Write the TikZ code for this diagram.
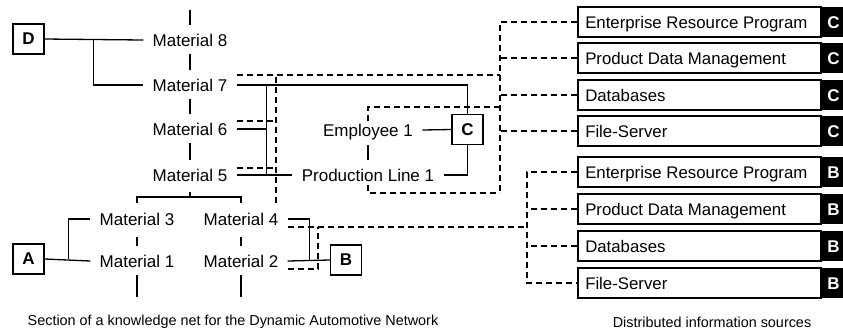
\documentclass[tikz,border=0pt]{standalone}
\usepackage{fontspec}
\setmainfont{Liberation Sans}
\begin{document}
\begin{tikzpicture}[x=0.5pt,y=-0.5pt,
  lab/.style={font=\fontsize{8.5}{10}\selectfont, inner xsep=4.5pt, inner ysep=0pt, text height=6.2pt, text depth=0pt},
  keybox/.style={draw, line width=0.75pt, minimum width=15.5pt, minimum height=15pt, inner sep=0pt, font=\fontsize{8.5}{10}\selectfont\bfseries},
  src/.style={draw, line width=0.75pt, anchor=west, minimum height=15pt, text width=114pt, inner xsep=3.75pt, inner ysep=0pt, text height=6.2pt, text depth=0pt, align=flush left, font=\fontsize{8.4}{10}\selectfont},
  tag/.style={fill=black, text=white, anchor=west, minimum width=11.5pt, minimum height=15pt, inner sep=0pt, text height=6.2pt, text depth=0pt, font=\fontsize{8.5}{10}\selectfont\bfseries},
  ln/.style={line width=0.65pt},
  dsh/.style={line width=0.65pt, dash pattern=on 3pt off 2pt},
  tick/.style={ln, shorten <=7pt, shorten >=7.5pt},
  captxt/.style={font=\fontsize{7.2}{9}\selectfont}
]
\useasboundingbox (0,0) rectangle (843,329);

% key boxes
\node[keybox] (D) at (28.5,39) {D};
\node[keybox] (A) at (28.5,259) {A};
\node[keybox] (B) at (346,260) {B};
\node[keybox] (C) at (467.5,129.5) {C};

% material column
\node[lab] (m8) at (190,40) {Material 8};
\node[lab] (m7) at (190,85) {Material 7};
\node[lab] (m6) at (190,129) {Material 6};
\node[lab] (m5) at (190,175) {Material 5};
\node[lab] (m3) at (137,219) {Material 3};
\node[lab] (m4) at (241,219) {Material 4};
\node[lab] (m1) at (137,261) {Material 1};
\node[lab] (m2) at (241,261) {Material 2};
\node[lab] (emp) at (368,130) {Employee 1};
\node[lab] (prod) at (368,175) {Production Line 1};

% sources
\node[src] (ercC) at (577,22) {Enterprise Resource Program};
\node[src] (pdmC) at (577,58) {Product Data Management};
\node[src] (dbC) at (577,95) {Databases};
\node[src] (fsC) at (577,131) {File-Server};
\node[src] (ercB) at (577,172) {Enterprise Resource Program};
\node[src] (pdmB) at (577,209) {Product Data Management};
\node[src] (dbB) at (577,246) {Databases};
\node[src] (fsB) at (577,283) {File-Server};
\foreach \n/\l in {ercC/C,pdmC/C,dbC/C,fsC/C,ercB/B,pdmB/B,dbB/B,fsB/B}
  \node[tag] (\n t) at (\n.east) {\l};

% coordinates
\coordinate (top8) at (190,10);
\coordinate (bot1) at (137,297);
\coordinate (bot2) at (241,297);
\coordinate (br) at (190,197);
\coordinate (cbusB) at (500,193);
\coordinate (ctr) at (500,107);
\coordinate (lbus) at (276,203);
\coordinate (bx) at (527,0);
\coordinate (jx) at (318,0);

% axis ticks
\draw[ln, shorten >=7.5pt] (top8) -- (m8.center);
\draw[tick] (m8.center) -- (m7.center);
\draw[tick] (m7.center) -- (m6.center);
\draw[tick] (m6.center) -- (m5.center);
\draw[ln, shorten <=9pt, shorten >=7.5pt] (m3.center) -- (m1.center);
\draw[ln, shorten <=9pt, shorten >=7.5pt] (m4.center) -- (m2.center);
\draw[ln, shorten <=7pt] (m1.center) -- (bot1);
\draw[ln, shorten <=7pt] (m2.center) -- (bot2);
\draw[ln, shorten <=7.5pt, shorten >=7.5pt] (emp.center) -- (prod.center);
\draw[ln] ([yshift=-8.5pt]m5.center) -- (br);
\draw[ln] ([yshift=8pt]m3.center) |- (br) -| ([yshift=8pt]m4.center);

% solid connectors
\draw[ln] (D.east) -- (m8.west);
\draw[ln] ([xshift=24.5pt]D.east) |- (m7.west);
\draw[ln] (A.east) -- (m1.west);
\draw[ln] ([xshift=12pt]A.east) |- (m3.west);
\draw[ln] (m7.east) -| (C.north);
\draw[ln] ([xshift=15pt]m7.east) -- ([xshift=15pt]m5.east);
\draw[ln] (m6.east) -- ([xshift=15pt]m6.east);
\draw[ln] (m5.east) -- (prod.west);
\draw[ln] (emp.east) -- (C.west);
\draw[ln] (prod.east) -| (C.south);
\draw[ln] (m2.east) -- (B.west);
\draw[ln] (m4.east) -| ([xshift=11pt]m2.east);

% dashed: C group
\draw[dsh] (ercC.west) -| (cbusB);
\draw[dsh] (pdmC.west) -- (pdmC.west -| cbusB);
\draw[dsh] (dbC.west) -- (dbC.west -| cbusB);
\draw[dsh] (fsC.west) -- (fsC.west -| cbusB);
\draw[dsh] ([yshift=5pt]m7.east) -- ([yshift=5pt]m7.east -| cbusB);
\draw[dsh] (lbus) -- ([yshift=5pt]m7.east -| lbus);
\draw[dsh] ([yshift=4pt]m6.east) -- ([yshift=4pt]m6.east -| lbus);
\draw[dsh] ([yshift=3.5pt]m5.east) -- ([yshift=3.5pt]m5.east -| lbus);
\draw[dsh] ([yshift=4.5pt]emp.center) |- (ctr);
\draw[dsh] ([yshift=-5pt]prod.center) |- (cbusB);

% dashed: B group
\draw[dsh] (ercB.west) -| (fsB.west -| bx) -- (fsB.west);
\draw[dsh] (pdmB.west) -- (pdmB.west -| bx);
\draw[dsh] (dbB.west) -- (dbB.west -| bx);
\draw[dsh] ([yshift=-4pt]m4.east) -- ([yshift=-4pt]m4.east -| bx);
\draw[dsh] ([yshift=-4pt]m2.east) -| ([yshift=-4pt]m4.east -| jx);

% captions
\node[captxt] (cap1) at (233,322) {Section of a knowledge net for the Dynamic Automotive Network};
\node[captxt] (cap2) at (712,322) {Distributed information sources};
\end{tikzpicture}
\end{document}
